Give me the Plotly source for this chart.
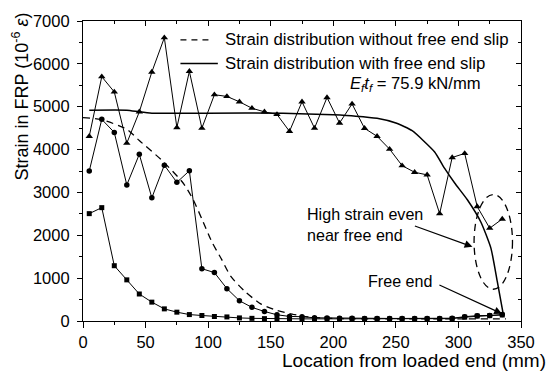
import plotly.graph_objects as go

# Measured FRP strains along the bonded length (three load stages)
loc_tri = [5, 15, 25, 35, 45, 55, 65, 75, 85, 95, 105, 115, 125, 135, 145, 155, 165, 175,
           185, 195, 205, 215, 225, 235, 245, 255, 265, 275, 285, 295, 305, 315, 325, 335]
strain_tri = [4310, 5700, 5345, 4150, 4880, 5810, 6610, 4515, 5825, 4500, 5280, 5240, 5115,
              4965, 4880, 4820, 4425, 5115, 4500, 5215, 4620, 5065, 4495, 4310, 4010, 3625,
              3470, 3410, 2505, 3815, 3910, 2670, 2165, 2380]

loc_cir = [5, 15, 25, 35, 45, 55, 65, 75, 85, 95, 105, 115, 125, 135, 145, 155, 165, 175,
           185, 195, 205, 215, 225, 235, 245, 255, 265, 275, 285, 295, 305, 315, 325, 335]
strain_cir = [3500, 4705, 4400, 3175, 3890, 2875, 3635, 3235, 3505, 1220, 1130, 755, 473,
              318, 222, 145, 107, 100, 75, 70, 65, 62, 60, 60, 60, 60, 60, 60, 60, 65, 100,
              125, 130, 150]

loc_sq = [5, 15, 25, 35, 45, 55, 65, 75, 85, 95, 105, 115, 125, 135, 145, 155, 165, 175,
          185, 195, 205, 215, 225, 235, 245, 255, 265, 275, 285, 295, 305, 315, 325, 335]
strain_sq = [2505, 2645, 1290, 960, 630, 440, 283, 206, 150, 128, 105, 95, 72, 62, 55, 50,
             50, 50, 50, 50, 50, 50, 50, 50, 50, 50, 50, 50, 50, 55, 90, 115, 125, 140]

# Predicted distributions
loc_noslip = [0, 14, 35, 45, 63, 80, 88, 95, 103, 111, 118, 129, 142, 155, 168, 181, 200,
              250, 300, 338]
strain_noslip = [4745, 4705, 4475, 4210, 3750, 3220, 2835, 2380, 1845, 1425, 1045, 700, 400,
                 245, 155, 92, 60, 50, 50, 50]

loc_slip = [5, 35, 45, 55, 100, 160, 200, 218, 235, 250, 263, 281, 289, 297, 307, 318, 326,
            331, 336]
strain_slip = [4920, 4920, 4880, 4850, 4850, 4850, 4810, 4780, 4730, 4620, 4440, 3945, 3560,
               3220, 2835, 2305, 1695, 930, 130]

x_ticks = [0, 50, 100, 150, 200, 250, 300, 350]
y_ticks = [0, 1000, 2000, 3000, 4000, 5000, 6000, 7000]

FONT = "Arial, Liberation Sans, sans-serif"
BLACK = "#000000"

# plot-area geometry in pixels (used to place the hand-drawn key and labels)
L, R, T, B = 83, 528, 15, 321
W, H = 547, 376


def px(x):
    return (x - L) / (R - L)


def py(y):
    return (B - y) / (B - T)


fig = go.Figure()

fig.add_trace(go.Scatter(x=loc_noslip, y=strain_noslip, mode="lines",
                         line=dict(color=BLACK, width=1.3, dash="7px,5px", shape="spline",
                                   smoothing=0.6),
                         hoverinfo="skip"))
fig.add_trace(go.Scatter(x=loc_slip, y=strain_slip, mode="lines",
                         line=dict(color=BLACK, width=1.5, shape="spline", smoothing=0.5),
                         hoverinfo="skip"))
fig.add_trace(go.Scatter(x=loc_tri, y=strain_tri, mode="lines+markers",
                         line=dict(color=BLACK, width=1),
                         marker=dict(symbol="triangle-up", size=6.5, color=BLACK)))
fig.add_trace(go.Scatter(x=loc_cir, y=strain_cir, mode="lines+markers",
                         line=dict(color=BLACK, width=1),
                         marker=dict(symbol="circle", size=5.5, color=BLACK)))
fig.add_trace(go.Scatter(x=loc_sq, y=strain_sq, mode="lines+markers",
                         line=dict(color=BLACK, width=1),
                         marker=dict(symbol="square", size=5, color=BLACK)))
# empty trace that carries the top/right tick axes
fig.add_trace(go.Scatter(x=[x_ticks[0]], y=[y_ticks[0]], xaxis="x2", yaxis="y2",
                         mode="markers", marker=dict(opacity=0), hoverinfo="skip"))

axis_common = dict(showgrid=False, zeroline=False, showline=True, linecolor=BLACK,
                   linewidth=1.2, tickcolor=BLACK, tickwidth=1)

fig.update_layout(
    width=W, height=H,
    margin=dict(l=L, r=W - R, t=T, b=H - B),
    paper_bgcolor="white", plot_bgcolor="white",
    showlegend=False,
    font=dict(family=FONT, color=BLACK, size=16),
    xaxis=dict(range=[0, 350], tickmode="array", tickvals=x_ticks,
               ticks="outside", ticklen=6,
               minor=dict(dtick=25, tick0=0, ticks="outside", ticklen=3,
                          tickcolor=BLACK, tickwidth=1),
               tickfont=dict(size=16.5, family=FONT, color=BLACK), **axis_common),
    yaxis=dict(range=[0, 7000], tickmode="array", tickvals=y_ticks,
               ticks="outside", ticklen=5, ticklabelstandoff=4,
               minor=dict(dtick=500, tick0=0, ticks="outside", ticklen=3,
                          tickcolor=BLACK, tickwidth=1),
               tickfont=dict(size=16.5, family=FONT, color=BLACK), **axis_common),
    xaxis2=dict(range=[0, 350], overlaying="x", side="top", anchor="y",
                tickmode="array", tickvals=x_ticks, ticks="inside", ticklen=5,
                showticklabels=False,
                minor=dict(dtick=25, tick0=0, ticks="inside", ticklen=3,
                           tickcolor=BLACK, tickwidth=1),
                **axis_common),
    yaxis2=dict(range=[0, 7000], overlaying="y", side="right", anchor="x",
                tickmode="array", tickvals=y_ticks, ticks="inside", ticklen=5,
                showticklabels=False,
                minor=dict(dtick=500, tick0=0, ticks="inside", ticklen=3,
                           tickcolor=BLACK, tickwidth=1),
                **axis_common),
)

shapes = [
    # key samples
    dict(type="line", xref="paper", yref="paper", x0=px(182), x1=px(215),
         y0=py(34.3), y1=py(34.3), line=dict(color=BLACK, width=1.3, dash="6px,5px")),
    dict(type="line", xref="paper", yref="paper", x0=px(182), x1=px(220),
         y0=py(58.3), y1=py(58.3), line=dict(color=BLACK, width=1.5)),
    # dashed ring around the high strains close to the free end
    dict(type="circle", xref="x", yref="y", x0=312.5, x1=343.2, y0=741, y1=2951,
         line=dict(color=BLACK, width=1.3, dash="7px,5px")),
]

annotations = [
    dict(xref="paper", yref="paper", x=px(225), y=py(34.3), xanchor="left",
         yanchor="middle", showarrow=False, font=dict(size=16.8),
         text="Strain distribution without free end slip"),
    dict(xref="paper", yref="paper", x=px(225), y=py(58.3), xanchor="left",
         yanchor="middle", showarrow=False, font=dict(size=16.8),
         text="Strain distribution with free end slip"),
    dict(xref="paper", yref="paper", x=px(352), y=py(79), xanchor="left",
         yanchor="middle", showarrow=False, font=dict(size=16.6),
         text="<i>E</i><sub><i>f</i></sub><i>t</i><sub><i>f</i></sub> = 75.9 kN/mm"),
    dict(xref="paper", yref="paper", x=px(309), y=py(223), xanchor="left",
         yanchor="middle", showarrow=False, align="left", font=dict(size=16.1),
         text="High strain even<br>near free end"),
    dict(xref="paper", yref="paper", x=px(371), y=py(280), xanchor="left",
         yanchor="middle", showarrow=False, font=dict(size=16.1),
         text="Free end"),
    # arrows
    dict(xref="x", yref="y", axref="x", ayref="y", x=311.2, y=1732, ax=264, ay=2228,
         text="", showarrow=True, arrowhead=2, arrowsize=1.3, arrowwidth=1.2,
         arrowcolor=BLACK),
    dict(xref="x", yref="y", axref="x", ayref="y", x=334.8, y=169, ax=283.6, ay=856,
         text="", showarrow=True, arrowhead=2, arrowsize=1.3, arrowwidth=1.2,
         arrowcolor=BLACK),
    # axis titles
    dict(xref="paper", yref="paper", x=px(419), y=py(361.5), xanchor="center",
         yanchor="middle", showarrow=False, font=dict(size=19),
         text="Location from loaded end (mm)"),
    dict(xref="paper", yref="paper", x=px(20), y=py(92), xanchor="center",
         yanchor="middle", showarrow=False, font=dict(size=18), textangle=-90,
         text="Strain in FRP (10<sup>-6</sup> <i>ε</i>)"),
]

fig.update_layout(shapes=shapes, annotations=annotations)

fig.write_html("out.html")
